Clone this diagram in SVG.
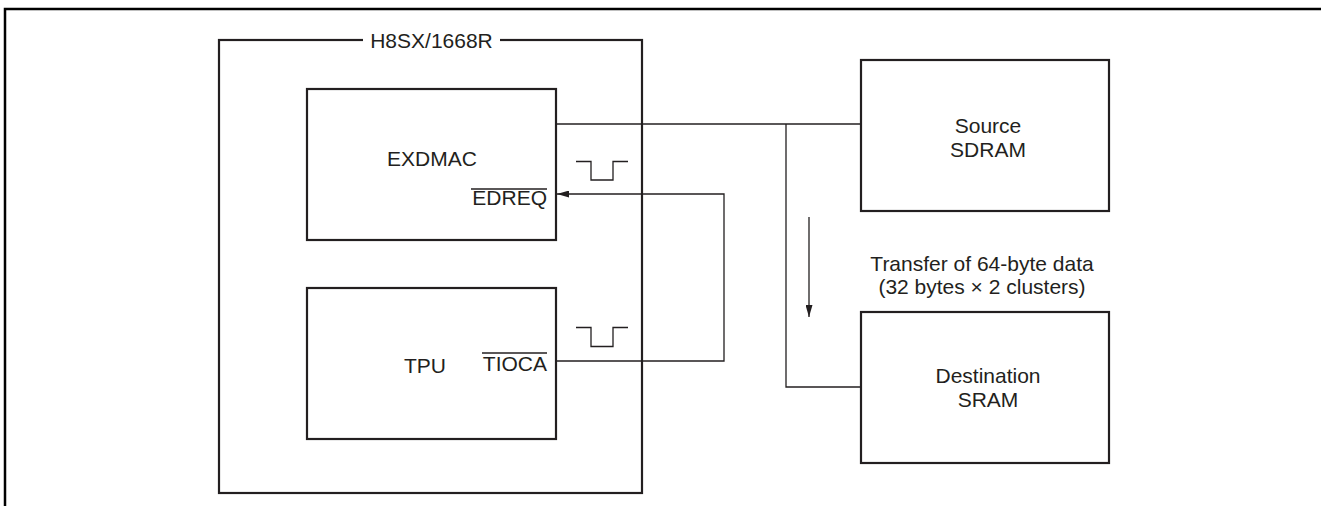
<svg xmlns="http://www.w3.org/2000/svg" width="1321" height="506" viewBox="0 0 1321 506">
<style>
.box{fill:none;stroke:#231f20;stroke-width:2.2}
.ln{fill:none;stroke:#231f20;stroke-width:1.3}
.t{font-family:"Liberation Sans",Arial,sans-serif;font-size:21px;fill:#231f20}
.m{text-anchor:middle}
.e{text-anchor:end}
</style>
<defs>
<marker id="ah" viewBox="0 0 12 7" refX="12" refY="3.5" markerWidth="12" markerHeight="7" markerUnits="userSpaceOnUse" orient="auto">
<path d="M0,0 L12,3.5 L0,7 Z" fill="#231f20"/>
</marker>
</defs>
<rect width="1321" height="506" fill="#fff"/>
<path d="M5,506 V9 H1321" fill="none" stroke="#000" stroke-width="2.5"/>
<g id="chip">
<rect class="box" x="219" y="40" width="423" height="453"/>
<rect x="363" y="34" width="137" height="12" fill="#fff"/>
<text class="t m" x="431.5" y="47.5">H8SX/1668R</text>
</g>
<g id="exdmac">
<rect class="box" x="307" y="89" width="249" height="151"/>
<text class="t m" x="432" y="166">EXDMAC</text>
<text class="t e" x="547" y="205">EDREQ</text>
<line class="ln" x1="471" y1="189" x2="547" y2="189"/>
</g>
<g id="tpu">
<rect class="box" x="307" y="288" width="249" height="151"/>
<text class="t m" x="425" y="373">TPU</text>
<text class="t e" x="547" y="371">TIOCA</text>
<line class="ln" x1="482" y1="353" x2="547" y2="353"/>
</g>
<g id="source">
<rect class="box" x="861" y="60" width="248" height="151"/>
<text class="t m" x="988" y="133">Source</text>
<text class="t m" x="988" y="157">SDRAM</text>
</g>
<g id="destination">
<rect class="box" x="861" y="312" width="248" height="151"/>
<text class="t m" x="988" y="383">Destination</text>
<text class="t m" x="988" y="407">SRAM</text>
</g>
<g id="transfer-label">
<text class="t m" x="982" y="271">Transfer of 64-byte data</text>
<text class="t m" x="982" y="294">(32 bytes × 2 clusters)</text>
</g>
<g id="connectors">
<path class="ln" d="M556,124 H861"/>
<path class="ln" d="M786,124 V387 H861"/>
<path class="ln" d="M809,217 V317" marker-end="url(#ah)"/>
<path class="ln" d="M556,361 H724 V194 H557" marker-end="url(#ah)"/>
<path class="ln" d="M576,161.5 H591 V180 H613 V161.5 H628"/>
<path class="ln" d="M576,327.5 H591 V346.5 H613 V327.5 H628"/>
</g>
</svg>
